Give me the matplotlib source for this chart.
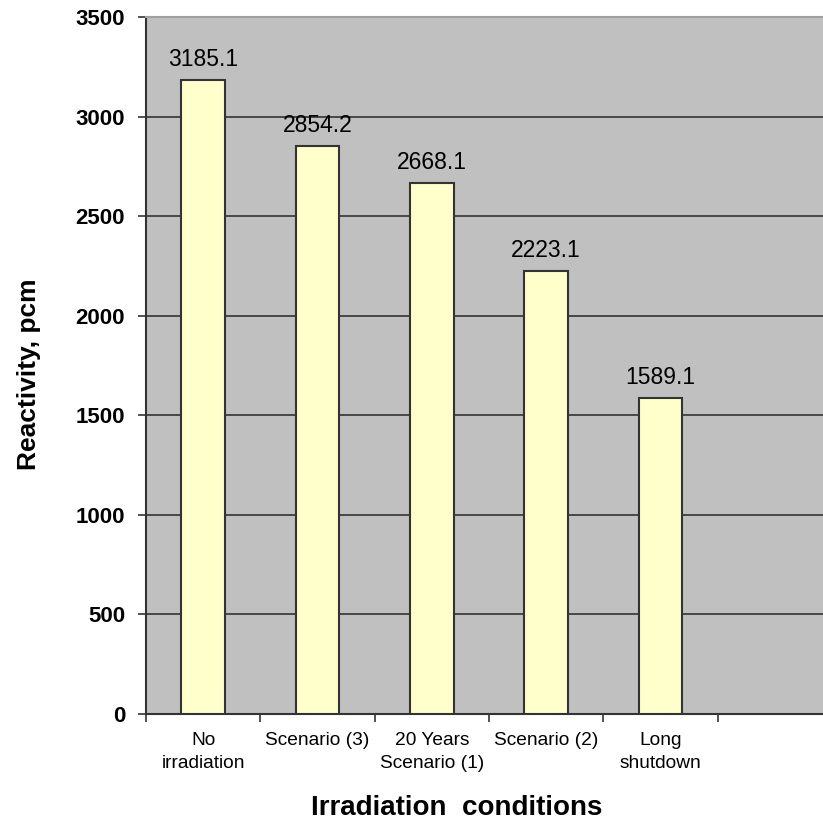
import numpy as np
import matplotlib
matplotlib.use('Agg')
import matplotlib.pyplot as plt

plt.rcParams['font.family'] = ['Liberation Sans', 'DejaVu Sans']

# Данные: реактивность при разных условиях облучения
conditions = ['No\nirradiation', 'Scenario (3)', '20 Years\nScenario (1)',
              'Scenario (2)', 'Long\nshutdown']
reactivity = [3185.1, 2854.2, 2668.1, 2223.1, 1589.1]
y_ticks = [0, 500, 1000, 1500, 2000, 2500, 3000, 3500]

fig = plt.figure(figsize=(8.23, 8.22), dpi=100)
# Область графика шире рисунка: шестая (пустая) категория уходит за правый край
ax = fig.add_axes([146 / 823, 108 / 822, 686 / 823, 697 / 822])
ax.set_facecolor('#c0c0c0')

x = np.arange(len(conditions))
ax.bar(x, reactivity, width=0.38, color='#ffffcc', edgecolor='#333333',
       linewidth=1.5, zorder=3)

# Подписи значений над столбцами
for xi, val in zip(x, reactivity):
    ax.annotate(f'{val:.1f}', (xi, val), xytext=(0, 10), textcoords='offset points',
                ha='center', va='baseline', fontsize=16.5, zorder=4)

ax.set_xlim(-0.5, 5.5)
ax.set_ylim(0, 3500)
ax.set_yticks(y_ticks)
ax.set_yticklabels([str(t) for t in y_ticks], fontsize=16, fontweight='bold')
ax.yaxis.grid(True, color='#333333', linewidth=1.2, zorder=1)
ax.set_axisbelow(True)

# Штрихи на границах категорий, подписи по центрам
ax.set_xticks(np.arange(-0.5, 6.0, 1.0))
ax.set_xticklabels([])
ax.set_xticks(x, minor=True)
ax.set_xticklabels(conditions, minor=True, fontsize=13.8, linespacing=1.45)
ax.tick_params(axis='x', which='minor', length=0, pad=13)
ax.tick_params(axis='both', which='major', direction='out', length=6, width=1.2,
               color='#333333')
ax.tick_params(axis='y', pad=9)

for side in ['left', 'bottom']:
    ax.spines[side].set_color('#333333')
    ax.spines[side].set_linewidth(1.5)
ax.spines['top'].set_color('#a0a0a0')
ax.spines['top'].set_linewidth(1.5)
ax.spines['right'].set_visible(False)

fig.text(29 / 823, 1 - 374 / 822, 'Reactivity, pcm', rotation=90, ha='center',
         va='center', fontsize=19, fontweight='bold')
fig.text(457 / 823, 1 - 815 / 822, 'Irradiation  conditions', ha='center',
         va='baseline', fontsize=20, fontweight='bold')

plt.savefig('out.png', dpi=100)
